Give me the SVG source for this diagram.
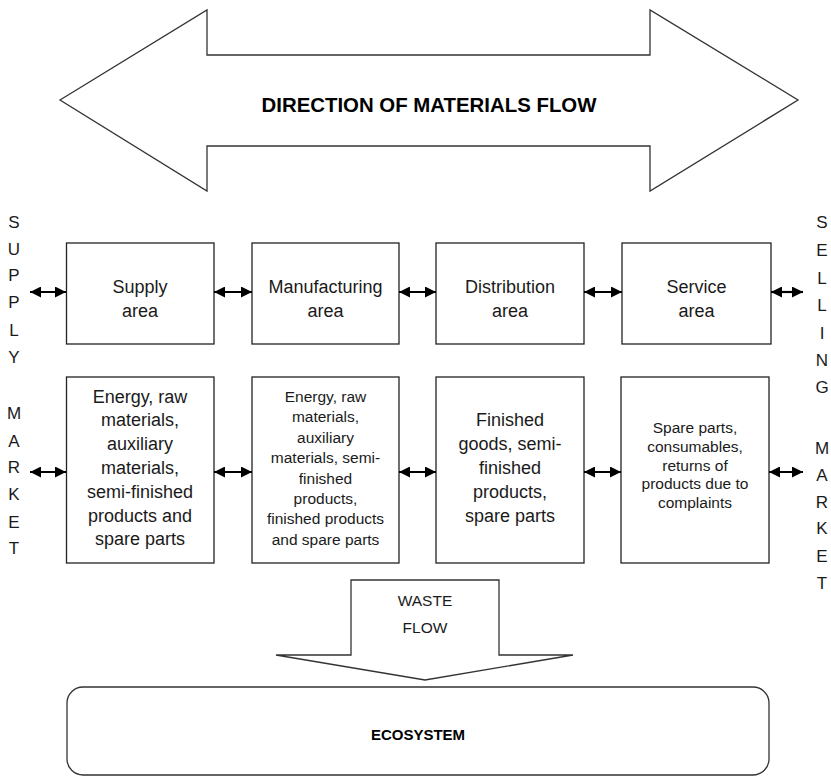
<svg xmlns="http://www.w3.org/2000/svg" width="831" height="776" viewBox="0 0 831 776">
<defs>
<style>
.box{fill:#fff;stroke:#222;stroke-width:1.3}
.shape{fill:#fff;stroke:#333;stroke-width:1.3}
.t{font-family:"Liberation Sans",Arial,sans-serif;font-size:18px;fill:#1a1a1a;text-anchor:middle}
.s{font-family:"Liberation Sans",Arial,sans-serif;font-size:15.5px;fill:#1a1a1a;text-anchor:middle}
.v{font-family:"Liberation Sans",Arial,sans-serif;font-size:17px;fill:#1a1a1a;text-anchor:middle}
.b{font-family:"Liberation Sans",Arial,sans-serif;font-weight:bold;fill:#000;text-anchor:middle}
.c{stroke:#000;stroke-width:2.2;fill:none;marker-start:url(#ah);marker-end:url(#ah)}
</style>
<marker id="ah" viewBox="0 0 10 10" refX="10" refY="5" markerWidth="11" markerHeight="11" markerUnits="userSpaceOnUse" orient="auto-start-reverse">
<path d="M0,0 L10,5 L0,10 z" fill="#000"/>
</marker>
</defs>

<g id="materials-flow">
<polygon class="shape" points="60,100 207,10 207,55 650,55 650,10 798,100 650,191 650,146 207,146 207,191"/>
<text class="b" x="429" y="111.5" font-size="20.4">DIRECTION OF MATERIALS FLOW</text>
</g>

<g id="supply-market">
<text class="v" x="14" y="228">S</text>
<text class="v" x="14" y="254.5">U</text>
<text class="v" x="14" y="281">P</text>
<text class="v" x="14" y="308">P</text>
<text class="v" x="14" y="336">L</text>
<text class="v" x="14" y="363">Y</text>
<text class="v" x="14" y="419">M</text>
<text class="v" x="14" y="447">A</text>
<text class="v" x="14" y="473">R</text>
<text class="v" x="14" y="500">K</text>
<text class="v" x="14" y="528">E</text>
<text class="v" x="14" y="554">T</text>
</g>

<g id="selling-market">
<text class="v" x="822" y="228">S</text>
<text class="v" x="822" y="256">E</text>
<text class="v" x="822" y="284">L</text>
<text class="v" x="822" y="311">L</text>
<text class="v" x="822" y="339">I</text>
<text class="v" x="822" y="366">N</text>
<text class="v" x="822" y="393">G</text>
<text class="v" x="822" y="454">M</text>
<text class="v" x="822" y="481">A</text>
<text class="v" x="822" y="508">R</text>
<text class="v" x="822" y="534">K</text>
<text class="v" x="822" y="562">E</text>
<text class="v" x="822" y="589">T</text>
</g>

<g id="supply-area">
<rect class="box" x="66.5" y="243" width="147.5" height="101"/>
<text class="t" x="140" y="292.5">Supply</text>
<text class="t" x="140" y="316.5">area</text>
</g>
<g id="manufacturing-area">
<rect class="box" x="252" y="243" width="147" height="101"/>
<text class="t" x="325.5" y="292.5">Manufacturing</text>
<text class="t" x="325.5" y="316.5">area</text>
</g>
<g id="distribution-area">
<rect class="box" x="436" y="243" width="148" height="101"/>
<text class="t" x="510" y="292.5">Distribution</text>
<text class="t" x="510" y="316.5">area</text>
</g>
<g id="service-area">
<rect class="box" x="622" y="243" width="149" height="101"/>
<text class="t" x="696.5" y="292.5">Service</text>
<text class="t" x="696.5" y="316.5">area</text>
</g>

<g id="supply-materials">
<rect class="box" x="66.5" y="377" width="147.5" height="186"/>
<text class="t" x="140" y="402.5">Energy, raw</text>
<text class="t" x="140" y="426.3">materials,</text>
<text class="t" x="140" y="450.1">auxiliary</text>
<text class="t" x="140" y="473.9">materials,</text>
<text class="t" x="140" y="497.7">semi-finished</text>
<text class="t" x="140" y="521.5">products and</text>
<text class="t" x="140" y="545.3">spare parts</text>
</g>
<g id="manufacturing-materials">
<rect class="box" x="252" y="377" width="147" height="186"/>
<text class="s" x="325.5" y="402">Energy, raw</text>
<text class="s" x="325.5" y="422.4">materials,</text>
<text class="s" x="325.5" y="442.8">auxiliary</text>
<text class="s" x="325.5" y="463.2">materials, semi-</text>
<text class="s" x="325.5" y="483.6">finished</text>
<text class="s" x="325.5" y="504">products,</text>
<text class="s" x="325.5" y="524.4">finished products</text>
<text class="s" x="325.5" y="544.8">and spare parts</text>
</g>
<g id="distribution-materials">
<rect class="box" x="436" y="377" width="148" height="186"/>
<text class="t" x="510" y="425.5">Finished</text>
<text class="t" x="510" y="449.5">goods, semi-</text>
<text class="t" x="510" y="473.5">finished</text>
<text class="t" x="510" y="497.5">products,</text>
<text class="t" x="510" y="521.5">spare parts</text>
</g>
<g id="service-materials">
<rect class="box" x="621" y="377" width="148" height="186"/>
<text class="s" x="695" y="433">Spare parts,</text>
<text class="s" x="695" y="451.75">consumables,</text>
<text class="s" x="695" y="470.5">returns of</text>
<text class="s" x="695" y="489.25">products due to</text>
<text class="s" x="695" y="508">complaints</text>
</g>

<g id="connectors">
<line class="c" x1="30" y1="292" x2="66" y2="292"/>
<line class="c" x1="214" y1="292" x2="252" y2="292"/>
<line class="c" x1="399" y1="292" x2="436" y2="292"/>
<line class="c" x1="584" y1="292" x2="622" y2="292"/>
<line class="c" x1="771" y1="292" x2="803" y2="292"/>
<line class="c" x1="30" y1="472" x2="66" y2="472"/>
<line class="c" x1="214" y1="472" x2="252" y2="472"/>
<line class="c" x1="399" y1="472" x2="436" y2="472"/>
<line class="c" x1="584" y1="472" x2="621" y2="472"/>
<line class="c" x1="769" y1="472" x2="803" y2="472"/>
</g>

<g id="waste-flow">
<polygon class="shape" points="351,580 499,580 499,655 573,655 425,680 276,655 351,655"/>
<text class="s" x="425" y="605.5">WASTE</text>
<text class="s" x="425" y="632.5">FLOW</text>
</g>

<g id="ecosystem">
<rect class="shape" x="67" y="687" width="702" height="88" rx="16" ry="16"/>
<text class="b" x="418" y="740" font-size="15">ECOSYSTEM</text>
</g>
</svg>
